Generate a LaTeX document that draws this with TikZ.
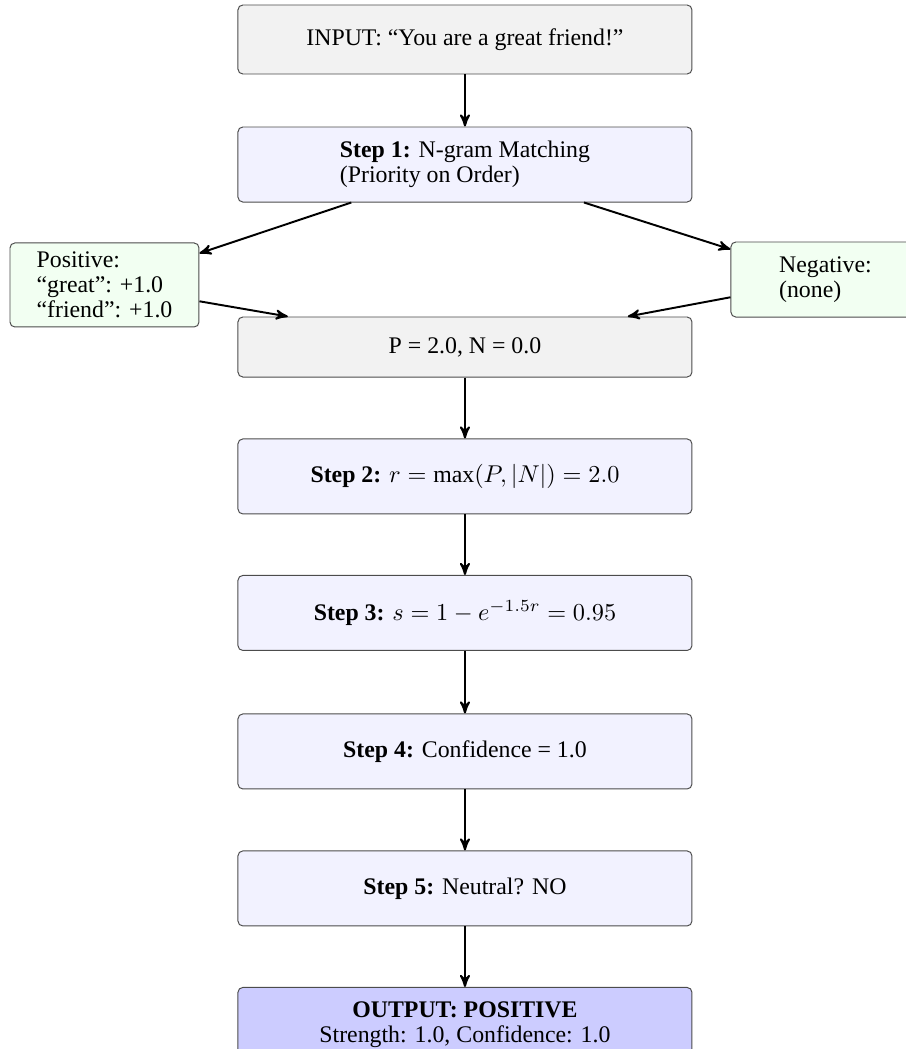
\documentclass[tikz,border=0pt]{standalone}
\usepackage{fontspec}
\setmainfont{Liberation Serif}
\usetikzlibrary{arrows}

\tikzset{
    box/.style={draw=black!70, rounded corners=2pt, align=left, minimum width=6.565cm, minimum height=1.085cm, inner sep=2pt, font=\fontsize{9.8}{10.3}\selectfont},
    inbox/.style={box, fill=gray!10},
    stepbox/.style={box, fill=blue!5},
    sidebox/.style={box, fill=green!5, minimum width=2.733cm},
    outbox/.style={box, fill=blue!20, align=center},
    flow/.style={->, >=stealth', thick}
}

\begin{document}
\begin{tikzpicture}

            \useasboundingbox (0,0) rectangle (13.10,-15.17);

            \node[inbox, minimum height=0.998cm] (input) at (6.724,-0.571) {INPUT: ``You are a great friend!''};
            \node[stepbox] (step1) at (6.724,-2.379) {\textbf{Step 1:} N-gram Matching\\(Priority on Order)};

            \node[sidebox, minimum height=1.215cm] (pos) at (1.511,-4.121) {Positive:\\``great'': +1.0\\``friend'': +1.0};
            \node[sidebox] (neg) at (11.937,-4.042) {Negative:\\(none)};

            \node[inbox, minimum height=0.868cm] (sums) at (6.724,-5.018) {P = 2.0, N = 0.0};

            \node[stepbox] (step2) at (6.724,-6.890) {\textbf{Step 2:} $r = \max(P, |N|) = 2.0$};
            \node[stepbox] (step3) at (6.724,-8.864) {\textbf{Step 3:} $s = 1 - e^{-1.5r} = 0.95$};
            \node[stepbox] (step4) at (6.724,-10.867) {\textbf{Step 4:} Confidence = 1.0};
            \node[stepbox] (step5) at (6.724,-12.848) {\textbf{Step 5:} Neutral? NO};
            \node[outbox] (output) at (6.724,-14.822) {\textbf{OUTPUT: POSITIVE}\\Strength: 1.0, Confidence: 1.0};

            \draw[flow] (input) -- (step1);
            \draw[flow] (step1) -- (pos);
            \draw[flow] (step1) -- (neg);
            \draw[flow] (pos) -- (sums);
            \draw[flow] (neg) -- (sums);
            \draw[flow] (sums) -- (step2);
            \draw[flow] (step2) -- (step3);
            \draw[flow] (step3) -- (step4);
            \draw[flow] (step4) -- (step5);
            \draw[flow] (step5) -- (output);

        \end{tikzpicture}
\end{document}
